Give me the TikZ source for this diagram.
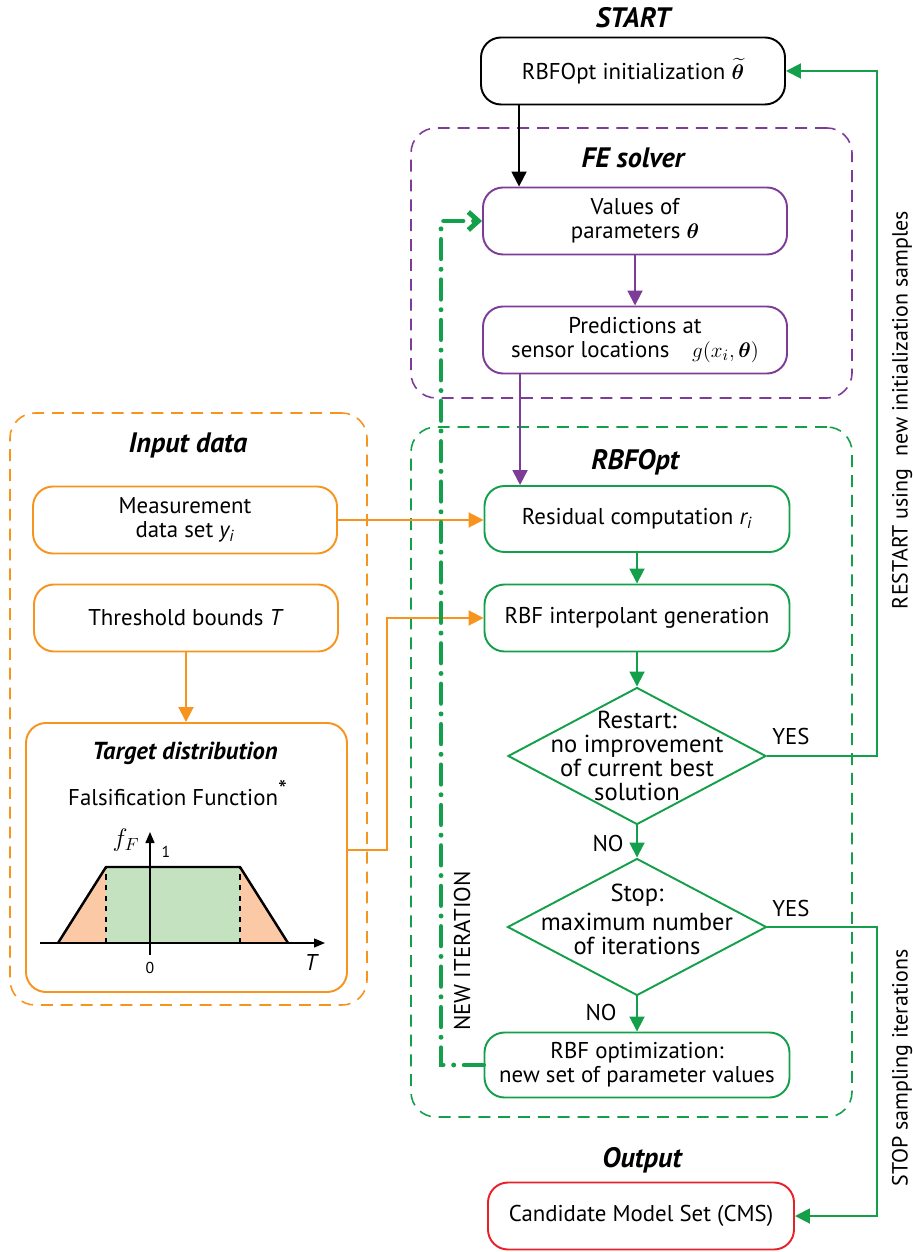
\documentclass[tikz,border=0pt]{standalone}
\usepackage{amsmath}
\usepackage{bm}
\usepackage{fontspec}
\setmainfont{PT Sans}
\usetikzlibrary{shapes.geometric,arrows.meta}
\definecolor{fepurple}{HTML}{7D3C98}
\definecolor{rbgreen}{HTML}{14A04B}
\definecolor{inorange}{HTML}{F7941D}
\definecolor{outred}{HTML}{E8202A}
\definecolor{fillorange}{HTML}{FBC9A6}
\definecolor{fillgreen}{HTML}{C4E2BF}
\begin{document}
\begin{tikzpicture}[
  >={Triangle[length=0.3cm,width=0.3cm]},
  box/.style={draw, rectangle, rounded corners=0.4cm, line width=1.1pt, minimum width=6.08cm, minimum height=1.34cm, align=center, font=\fontsize{13}{13.8}\selectfont},
  decision/.style={draw=rbgreen, diamond, line width=1.1pt, minimum width=5.16cm, minimum height=2.74cm, inner sep=0pt},
  group/.style={draw, dash pattern=on 6.8pt off 4.5pt, rounded corners=0.5cm, line width=0.9pt},
  title/.style={font=\fontsize{16}{18}\selectfont\bfseries\itshape},
  lab/.style={font=\fontsize{13}{13.8}\selectfont, align=center},
  dlab/.style={font=\fontsize{14}{13.6}\selectfont, align=center},
  small/.style={font=\fontsize{9}{10}\selectfont, inner sep=1pt}
]
\useasboundingbox (0,0) rectangle (18.24,-25.04);

\node[group, draw=fepurple, minimum width=8.82cm, minimum height=5.40cm] (fe) at (12.63,-5.26) {};
\node[group, draw=rbgreen, minimum width=8.82cm, minimum height=13.80cm] (rbf) at (12.63,-15.44) {};
\node[group, draw=inorange, minimum width=7.14cm, minimum height=11.84cm] (input) at (3.77,-14.18) {};

\node[title] (starttitle) at (12.66,-0.36) {START};
\node[title] (fetitle) at (12.66,-3.16) {FE solver};
\node[title] (inputtitle) at (3.76,-8.90) {Input data};
\node[title] (rbftitle) at (12.70,-9.24) {RBFOpt};
\node[title] (outtitle) at (12.84,-23.20) {Output};

\node[box, draw=black] (init) at (12.66,-1.42) {RBFOpt initialization $\widetilde{\bm{\theta}}$};
\node[box, draw=fepurple] (vals) at (12.70,-4.42) {Values of\\parameters $\bm{\theta}$};
\node[box, draw=fepurple] (pred) at (12.70,-6.80) {Predictions at\\sensor locations\quad $g(x_{i},\bm{\theta})$};
\node[box, draw=inorange] (meas) at (3.70,-10.40) {Measurement\\data set \textit{y\textsubscript{i}}};
\node[box, draw=inorange] (thr) at (3.72,-12.36) {Threshold bounds \textit{T}};
\node[box, draw=inorange, minimum width=6.42cm, minimum height=5.38cm] (target) at (3.73,-17.15) {};
\node[box, draw=rbgreen, minimum width=6.10cm, minimum height=1.32cm] (resid) at (12.74,-10.38) {Residual computation \textit{r\textsubscript{i}}};
\node[box, draw=rbgreen, minimum width=6.10cm] (interp) at (12.74,-12.36) {RBF interpolant generation};
\node[decision] (dec1) at (12.74,-15.12) {};
\node[dlab] (dec1txt) at (dec1) {Restart:\\no improvement\\of current best\\solution};
\node[decision, minimum width=5.18cm] (dec2) at (12.74,-18.54) {};
\node[dlab] (dec2txt) at (12.74,-18.38) {Stop:\\[3pt]maximum number\\of iterations};
\node[box, draw=rbgreen, minimum width=6.10cm, minimum height=1.30cm] (optim) at (12.74,-21.30) {RBF optimization:\\new set of parameter values};
\node[box, draw=outred, minimum width=6.12cm] (cms) at (12.82,-24.32) {Candidate Model Set (CMS)};

\node[font=\fontsize{14}{16}\selectfont\bfseries\itshape] (targettitle) at (3.70,-15.06) {Target distribution};
\node[lab] (falsif) at (3.56,-15.86) {Falsification Function\textsuperscript{\Large *}};
\fill[fillorange] (1.16,-18.86) -- (2.12,-17.34) -- (2.12,-18.86) -- cycle;
\fill[fillgreen] (2.12,-18.86) rectangle (4.80,-17.34);
\fill[fillorange] (4.80,-18.86) -- (4.80,-17.34) -- (5.76,-18.86) -- cycle;
\draw[-{Triangle[length=0.22cm,width=0.18cm]}, line width=0.8pt] (0.80,-18.86) -- (6.50,-18.86);
\draw[-{Triangle[length=0.22cm,width=0.18cm]}, line width=0.8pt] (3.00,-19.10) -- (3.00,-16.64);
\draw[line width=1.4pt, line join=round] (1.16,-18.86) -- (2.12,-17.34) -- (4.80,-17.34) -- (5.76,-18.86);
\draw[dashed, line width=1.1pt] (2.12,-18.86) -- (2.12,-17.34) (4.80,-18.86) -- (4.80,-17.34);
\node[small] (one) at (3.32,-17.04) {1};
\node[small] (zero) at (3.00,-19.36) {0};
\node[lab] (tlab) at (6.24,-19.24) {\textit{T}};
\node[lab, font=\fontsize{14}{16}\selectfont] (flab) at (2.52,-16.80) {$f_{F}$};

\node[lab] (yes1) at (15.82,-14.72) {YES};
\node[lab] (yes2) at (15.82,-18.16) {YES};
\node[lab] (no1) at (12.16,-16.86) {NO};
\node[lab] (no2) at (12.02,-20.24) {NO};
\node[lab, font=\fontsize{12.5}{14}\selectfont, rotate=90] (restartlab) at (18.04,-8.20) {RESTART using\ \ new initialization samples};
\node[lab, font=\fontsize{12.5}{14}\selectfont, rotate=90] (stoplab) at (18.04,-21.36) {STOP sampling iterations};
\node[lab, rotate=90] (newit) at (9.24,-19.02) {NEW ITERATION};

\coordinate (rx) at (17.54,0);
\coordinate (lx) at (8.82,0);
\coordinate (bx) at (7.74,0);

\draw[->, line width=1.1pt] ([xshift=0.78cm]init.south west) -- ([xshift=0.78cm]init.south west |- vals.north);
\draw[->, fepurple, line width=1.1pt] (vals) -- (pred);
\draw[->, fepurple, line width=1.1pt] ([xshift=0.76cm]pred.south west) -- ([xshift=0.76cm]pred.south west |- resid.north);
\draw[->, inorange, line width=1.1pt] (meas.east) -- (meas.east -| resid.west);
\draw[->, inorange, line width=1.1pt] (thr.south) -- (thr.south |- target.north);
\draw[->, inorange, line width=1.1pt] ([yshift=0.15cm]target.east) -- ([yshift=0.15cm]target.east -| bx) |- (interp.west);
\draw[->, rbgreen, line width=1.1pt] (resid) -- (interp);
\draw[->, rbgreen, line width=1.1pt] (interp) -- (dec1);
\draw[->, rbgreen, line width=1.1pt] (dec1) -- (dec2);
\draw[->, rbgreen, line width=1.1pt] (dec2) -- (optim);
\draw[->, rbgreen, line width=1.1pt] (dec1.east) -- (dec1.east -| rx) |- (init.east);
\draw[->, rbgreen, line width=1.1pt] (dec2.east) -- (dec2.east -| rx) |- (cms.east);
\draw[-{Straight Barb[length=0.2cm,width=0.36cm]}, rbgreen, line width=2.8pt, line cap=round, dash pattern=on 11pt off 6pt on 0pt off 6pt] (optim.west) -- (optim.west -| lx) |- (vals.west);
\end{tikzpicture}
\end{document}
